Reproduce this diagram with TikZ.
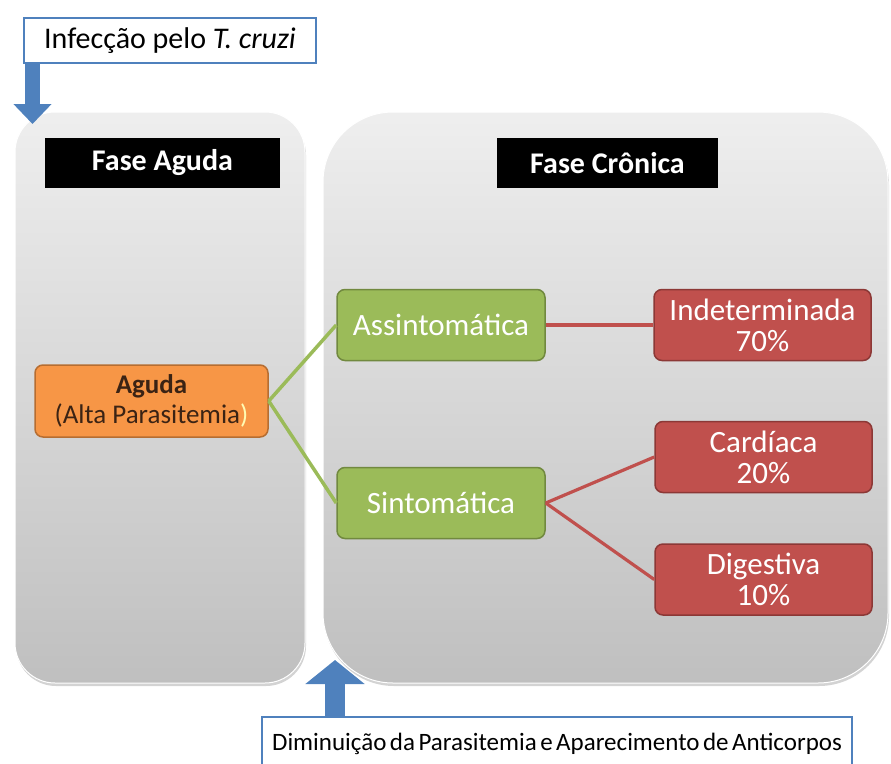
\documentclass[tikz,border=0pt]{standalone}
\usepackage{fontspec}
\setmainfont{Carlito}
\usetikzlibrary{positioning, shadows, arrows.meta}
\definecolor{boxblue}{HTML}{4F81BD}
\definecolor{stagefill}{HTML}{9BBB59}
\definecolor{stageline}{HTML}{71893F}
\definecolor{formfill}{HTML}{C0504D}
\definecolor{formline}{HTML}{8C3836}
\definecolor{acutefill}{HTML}{F79646}
\definecolor{acuteline}{HTML}{B66D31}
\definecolor{acutetext}{HTML}{3B2314}

\begin{document}
\begin{tikzpicture}[x=1pt, y=-1pt,
    every node/.style={text centered, align=center, inner sep=0pt, font=\fontsize{31}{31}\selectfont},
    panel/.style={rounded corners=40pt, top color=gray!13, bottom color=gray!50, draw=white, line width=1pt,
      drop shadow={opacity=0.35, shadow xshift=1pt, shadow yshift=-3pt}},
    titlebox/.style={fill=black, text=white, font=\bfseries\fontsize{30}{30}\selectfont, minimum height=50pt},
    stagebox/.style={rounded corners=8pt, fill=stagefill, draw=stageline, line width=1.5pt, text=white, minimum width=208pt, minimum height=71pt},
    formbox/.style={rounded corners=8pt, fill=formfill, draw=formline, line width=1.5pt, text=white, minimum width=217pt, minimum height=71pt},
    notebox/.style={fill=white, draw=boxblue, line width=2pt},
    linkgreen/.style={stagefill, line width=3.5pt},
    linkred/.style={formfill, line width=3.2pt},
    blockarrow/.style={boxblue, line width=15pt, -{Triangle[length=20pt, width=37pt]}}
  ]
  \useasboundingbox (0,0) rectangle (891,763);

  % Panels
  \node (acute_panel) [panel, minimum width=290pt, minimum height=571pt] at (160,397.5) {};
  \node (chronic_panel) [panel, rounded corners=70pt, minimum width=565pt, minimum height=571pt] at (605.5,397.5) {};

  \node (acute_title) [titlebox, minimum width=235pt] at (162.5,163) {Fase Aguda};
  \node (chronic_title) [titlebox, minimum width=221pt] at (607.5,163) {Fase Crônica};

  % Stages
  \node (acute) [rounded corners=8pt, fill=acutefill, draw=acuteline, line width=1.5pt, text=acutetext,
    minimum width=233pt, minimum height=72pt, font=\fontsize{27}{30}\selectfont] at (151.5,401)
    {\textbf{Aguda}\\(Alta Parasitemia{\color{yellow!30})}};
  \node (asympt) [stagebox] at (441,325) {Assintomática};
  \node (sympt) [stagebox] at (441,503) {Sintomática};

  \node (indet) [formbox] at (762.5,325) {Indeterminada\\70\%};
  \node (cardiac) [formbox] at (763.5,457) {Cardíaca\\20\%};
  \node (digest) [formbox, below=50pt of cardiac] {Digestiva\\10\%};

  % Links
  \draw [linkgreen] (acute.east) -- (asympt.west);
  \draw [linkgreen] (acute.east) -- (sympt.west);
  \draw [linkred] (asympt.east) -- (indet.west);
  \draw [linkred] (sympt.east) -- (cardiac.west);
  \draw [linkred] (sympt.east) -- (digest.west);

  % Notes and arrows
  \node (infection) [notebox, minimum width=292pt, minimum height=45pt, font=\fontsize{30}{30}\selectfont] at (170,40.5) {Infecção pelo \textit{T. cruzi}};
  \node (decrease) [notebox, minimum width=590pt, minimum height=60pt, anchor=north, text depth=0pt,
    font=\fontsize{25}{26}\selectfont] at (557,716)
    {\raisebox{10pt}{\spaceskip 3.5pt\relax Diminuição da Parasitemia e Aparecimento de Anticorpos}};
  \coordinate (infection_tip) at (32.5,124);
  \coordinate (decrease_tip) at (335,660);
  \draw [blockarrow] (infection.south west -| infection_tip) -- (infection_tip);
  \draw [blockarrow, line width=20pt, -{Triangle[length=24pt, width=58pt]}] (decrease.north -| decrease_tip) -- (decrease_tip);
\end{tikzpicture}
\end{document}
